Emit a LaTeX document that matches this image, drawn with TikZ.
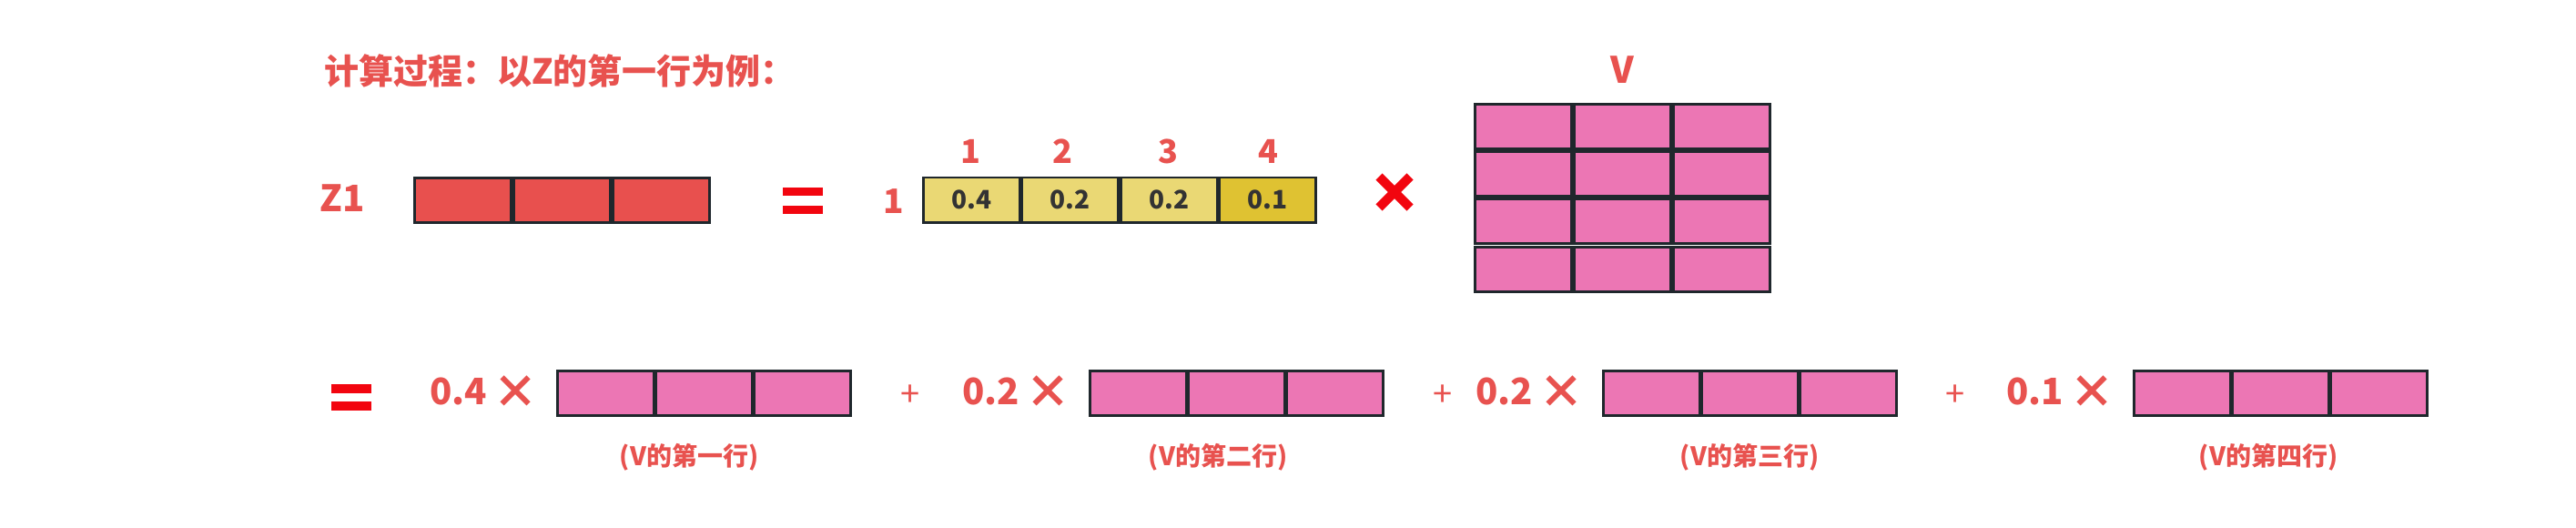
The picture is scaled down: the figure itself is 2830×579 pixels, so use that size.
\documentclass[tikz,border=0pt]{standalone}
\usepackage{fontspec}
\setmainfont{Noto Sans CJK SC}
\definecolor{tred}{HTML}{E8524F}
\definecolor{zred}{HTML}{E8504E}
\definecolor{yel}{HTML}{EAD874}
\definecolor{yeld}{HTML}{DFC232}
\definecolor{pinkc}{HTML}{EC76B4}
\definecolor{bord}{HTML}{1F272C}
\definecolor{pure}{HTML}{F2050F}
\definecolor{dig}{HTML}{333333}
\newcommand{\fs}[1]{\fontsize{#1}{#1}\selectfont}
\newcommand{\bigx}{{\fs{25}\raisebox{-2pt}{×}}}
\begin{document}
\begin{tikzpicture}[x=0.5pt,y=-0.5pt,
  cell/.style={draw=bord, line width=1.375pt, inner sep=0pt, minimum height=24.625pt, minimum width=53.125pt},
  rtxt/.style={text=tred, font=\bfseries, inner sep=0pt},
  bar/.style={fill=pure},
  coef/.style={rtxt, font=\fs{20}\bfseries},
  plus/.style={text=tred, inner sep=0pt, font=\fs{19}},
  rowlab/.style={rtxt, font=\fs{14}\bfseries},
  colnum/.style={rtxt, font=\fs{18}\bfseries},
  celltxt/.style={text=dig, font=\fs{14}\bfseries}]
\useasboundingbox (0,0) rectangle (2830,579);
\fill[white] (0,0) rectangle (2830,579);

% title
\node[rtxt, anchor=west, font=\fs{19}\bfseries] (title) at (356,78) {计算过程：以Z的第一行为例：};

% Z1 row
\node[rtxt, font=\fs{20}\bfseries] (z1lab) at (376,218) {Z1};
\foreach \i in {0,1,2}
  \node[cell, fill=zred] (z\i) at ({454+109*(\i+0.5)},220) {};

% top equals
\fill[bar] (860,206) rectangle (904,215);
\fill[bar] (860,226) rectangle (904,235);

% attention row
\node[rtxt, font=\fs{18.5}\bfseries] (rowone) at (982,221) {1};
\foreach \i/\v/\c in {0/0.4/yel,1/0.2/yel,2/0.2/yel,3/0.1/yeld}
  \node[cell, minimum width=52.875pt, fill=\c, celltxt] (a\i) at ({1013+108.5*(\i+0.5)},219.5) {\v};
\foreach \x/\t in {1066/1,1167/2,1283/3,1393/4}
  \node[colnum] (h\t) at (\x,166) {\t};

% big times
\draw[pure, line width=5pt] (1515,194) -- (1549,228);
\draw[pure, line width=5pt] (1515,228) -- (1549,194);

% V matrix
\node[rtxt, font=\fs{20}\bfseries] (vlab) at (1782,77) {V};
\foreach \r/\y in {1/139,2/191,3/243,4/296}
  \foreach \j in {0,1,2}
    \node[cell, fill=pinkc] (v\r\j) at ({1619+109*(\j+0.5)},\y) {};

% bottom equals
\fill[bar] (364,422) rectangle (408,432);
\fill[bar] (364,441) rectangle (408,451);

% bottom terms
\foreach \k/\x/\c/\cx/\lx/\name in {1/611/0.4/532/757/一,2/1196/0.2/1117/1338/二,3/1760/0.2/1681/1922/三,4/2343/0.1/2264/2492/四}{
  \node[coef] (c\k) at (\cx,431) {\c\,\bigx};
  \foreach \j in {0,1,2}
    \node[cell, minimum width=52.79pt, fill=pinkc] (b\k\j) at ({\x+108.33*(\j+0.5)},432) {};
  \node[rowlab] (l\k) at (\lx,502) {(V的第\name 行)};
}
\foreach \k/\x in {1/1000,2/1585,3/2148}
  \node[plus] (p\k) at (\x,435) {+};
\end{tikzpicture}
\end{document}
